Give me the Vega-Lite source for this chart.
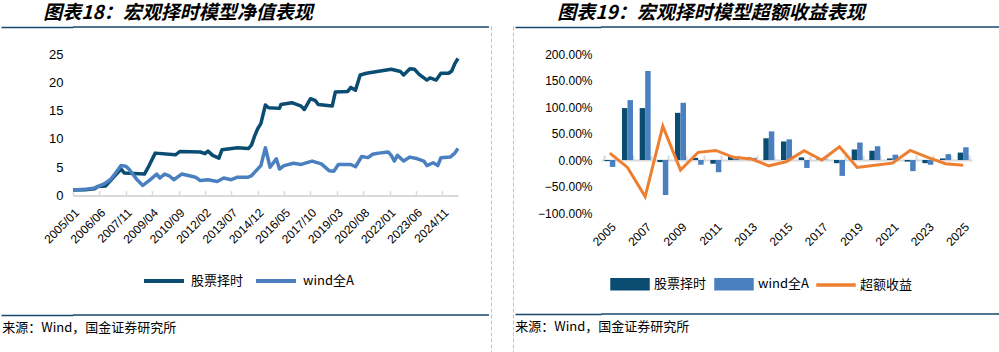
{
  "$schema": "https://vega.github.io/schema/vega-lite/v6.json",
  "padding": {"left": 0, "top": 4, "right": 0, "bottom": 0},
  "background": "white",
  "datasets": {
    "net": [
      {"date": "2005/01/01", "series": "股票择时", "value": 1.0},
      {"date": "2005/09/01", "series": "股票择时", "value": 1.05},
      {"date": "2006/03/01", "series": "股票择时", "value": 1.2},
      {"date": "2006/05/01", "series": "股票择时", "value": 1.6},
      {"date": "2006/10/01", "series": "股票择时", "value": 1.7},
      {"date": "2007/01/01", "series": "股票择时", "value": 2.6},
      {"date": "2007/04/01", "series": "股票择时", "value": 3.5},
      {"date": "2007/08/01", "series": "股票择时", "value": 4.7},
      {"date": "2007/10/01", "series": "股票择时", "value": 4.0},
      {"date": "2008/11/01", "series": "股票择时", "value": 3.8},
      {"date": "2009/02/01", "series": "股票择时", "value": 5.3},
      {"date": "2009/06/01", "series": "股票择时", "value": 7.5},
      {"date": "2010/07/01", "series": "股票择时", "value": 7.2},
      {"date": "2010/10/01", "series": "股票择时", "value": 7.8},
      {"date": "2011/11/01", "series": "股票择时", "value": 7.7},
      {"date": "2012/02/01", "series": "股票择时", "value": 7.4},
      {"date": "2012/04/01", "series": "股票择时", "value": 7.85},
      {"date": "2012/07/01", "series": "股票择时", "value": 7.1},
      {"date": "2012/11/01", "series": "股票择时", "value": 6.6},
      {"date": "2013/01/01", "series": "股票择时", "value": 8.1},
      {"date": "2013/11/01", "series": "股票择时", "value": 8.45},
      {"date": "2014/06/01", "series": "股票择时", "value": 8.3},
      {"date": "2014/08/01", "series": "股票择时", "value": 8.9},
      {"date": "2014/10/01", "series": "股票择时", "value": 10.5},
      {"date": "2014/12/01", "series": "股票择时", "value": 11.8},
      {"date": "2015/02/01", "series": "股票择时", "value": 12.7},
      {"date": "2015/05/01", "series": "股票择时", "value": 16.0},
      {"date": "2015/07/01", "series": "股票择时", "value": 15.5},
      {"date": "2016/02/01", "series": "股票择时", "value": 15.4},
      {"date": "2016/03/01", "series": "股票择时", "value": 16.1},
      {"date": "2016/10/01", "series": "股票择时", "value": 16.4},
      {"date": "2017/04/01", "series": "股票择时", "value": 15.8},
      {"date": "2017/06/01", "series": "股票择时", "value": 15.2},
      {"date": "2017/10/01", "series": "股票择时", "value": 17.1},
      {"date": "2018/01/01", "series": "股票择时", "value": 16.8},
      {"date": "2018/03/01", "series": "股票择时", "value": 16.1},
      {"date": "2018/12/01", "series": "股票择时", "value": 15.8},
      {"date": "2019/02/01", "series": "股票择时", "value": 18.3},
      {"date": "2019/10/01", "series": "股票择时", "value": 18.4},
      {"date": "2019/12/01", "series": "股票择时", "value": 19.1},
      {"date": "2020/03/01", "series": "股票择时", "value": 18.6},
      {"date": "2020/06/01", "series": "股票择时", "value": 21.3},
      {"date": "2020/10/01", "series": "股票择时", "value": 21.6},
      {"date": "2021/05/01", "series": "股票择时", "value": 21.9},
      {"date": "2022/02/01", "series": "股票择时", "value": 22.3},
      {"date": "2022/08/01", "series": "股票择时", "value": 21.9},
      {"date": "2022/10/01", "series": "股票择时", "value": 21.3},
      {"date": "2023/02/01", "series": "股票择时", "value": 22.4},
      {"date": "2023/05/01", "series": "股票择时", "value": 22.3},
      {"date": "2023/08/01", "series": "股票择时", "value": 21.4},
      {"date": "2024/01/01", "series": "股票择时", "value": 20.4},
      {"date": "2024/03/01", "series": "股票择时", "value": 20.8},
      {"date": "2024/07/01", "series": "股票择时", "value": 20.4},
      {"date": "2024/10/01", "series": "股票择时", "value": 21.6},
      {"date": "2025/03/01", "series": "股票择时", "value": 21.6},
      {"date": "2025/05/01", "series": "股票择时", "value": 22.0},
      {"date": "2025/07/01", "series": "股票择时", "value": 23.3},
      {"date": "2025/09/01", "series": "股票择时", "value": 24.2},
      {"date": "2005/01/01", "series": "wind全A", "value": 1.0},
      {"date": "2005/09/01", "series": "wind全A", "value": 1.1},
      {"date": "2006/03/01", "series": "wind全A", "value": 1.35},
      {"date": "2006/05/01", "series": "wind全A", "value": 1.6},
      {"date": "2006/09/01", "series": "wind全A", "value": 2.05},
      {"date": "2007/01/01", "series": "wind全A", "value": 2.8},
      {"date": "2007/04/01", "series": "wind全A", "value": 3.8},
      {"date": "2007/08/01", "series": "wind全A", "value": 5.3},
      {"date": "2007/11/01", "series": "wind全A", "value": 5.2},
      {"date": "2008/01/01", "series": "wind全A", "value": 4.7},
      {"date": "2008/06/01", "series": "wind全A", "value": 2.9},
      {"date": "2008/10/01", "series": "wind全A", "value": 1.8},
      {"date": "2009/02/01", "series": "wind全A", "value": 2.65},
      {"date": "2009/07/01", "series": "wind全A", "value": 3.8},
      {"date": "2009/09/01", "series": "wind全A", "value": 3.1},
      {"date": "2009/12/01", "series": "wind全A", "value": 3.8},
      {"date": "2010/03/01", "series": "wind全A", "value": 3.5},
      {"date": "2010/06/01", "series": "wind全A", "value": 2.8},
      {"date": "2010/11/01", "series": "wind全A", "value": 3.8},
      {"date": "2011/04/01", "series": "wind全A", "value": 3.5},
      {"date": "2011/08/01", "series": "wind全A", "value": 3.25},
      {"date": "2011/11/01", "series": "wind全A", "value": 2.65},
      {"date": "2012/04/01", "series": "wind全A", "value": 2.8},
      {"date": "2012/10/01", "series": "wind全A", "value": 2.5},
      {"date": "2013/02/01", "series": "wind全A", "value": 3.1},
      {"date": "2013/07/01", "series": "wind全A", "value": 2.8},
      {"date": "2013/11/01", "series": "wind全A", "value": 3.25},
      {"date": "2014/06/01", "series": "wind全A", "value": 3.25},
      {"date": "2014/08/01", "series": "wind全A", "value": 3.5},
      {"date": "2014/10/01", "series": "wind全A", "value": 4.1},
      {"date": "2015/02/01", "series": "wind全A", "value": 5.3},
      {"date": "2015/05/01", "series": "wind全A", "value": 8.45},
      {"date": "2015/08/01", "series": "wind全A", "value": 5.0},
      {"date": "2015/12/01", "series": "wind全A", "value": 6.5},
      {"date": "2016/02/01", "series": "wind全A", "value": 4.7},
      {"date": "2016/05/01", "series": "wind全A", "value": 5.3},
      {"date": "2016/11/01", "series": "wind全A", "value": 5.7},
      {"date": "2017/04/01", "series": "wind全A", "value": 5.5},
      {"date": "2017/11/01", "series": "wind全A", "value": 6.1},
      {"date": "2018/05/01", "series": "wind全A", "value": 5.6},
      {"date": "2018/10/01", "series": "wind全A", "value": 4.4},
      {"date": "2019/01/01", "series": "wind全A", "value": 4.3},
      {"date": "2019/04/01", "series": "wind全A", "value": 5.5},
      {"date": "2019/12/01", "series": "wind全A", "value": 5.5},
      {"date": "2020/03/01", "series": "wind全A", "value": 5.1},
      {"date": "2020/07/01", "series": "wind全A", "value": 6.9},
      {"date": "2020/11/01", "series": "wind全A", "value": 6.7},
      {"date": "2021/02/01", "series": "wind全A", "value": 7.3},
      {"date": "2021/06/01", "series": "wind全A", "value": 7.5},
      {"date": "2021/12/01", "series": "wind全A", "value": 7.7},
      {"date": "2022/02/01", "series": "wind全A", "value": 7.1},
      {"date": "2022/04/01", "series": "wind全A", "value": 6.1},
      {"date": "2022/06/01", "series": "wind全A", "value": 7.1},
      {"date": "2022/10/01", "series": "wind全A", "value": 6.1},
      {"date": "2023/02/01", "series": "wind全A", "value": 6.8},
      {"date": "2023/07/01", "series": "wind全A", "value": 6.5},
      {"date": "2023/11/01", "series": "wind全A", "value": 6.1},
      {"date": "2024/01/01", "series": "wind全A", "value": 5.3},
      {"date": "2024/05/01", "series": "wind全A", "value": 5.8},
      {"date": "2024/08/01", "series": "wind全A", "value": 5.3},
      {"date": "2024/10/01", "series": "wind全A", "value": 6.7},
      {"date": "2025/04/01", "series": "wind全A", "value": 6.8},
      {"date": "2025/07/01", "series": "wind全A", "value": 7.5},
      {"date": "2025/09/01", "series": "wind全A", "value": 8.3}
    ],
    "excess": [
      {"year": 2005, "series": "股票择时", "value": -0.02},
      {"year": 2006, "series": "股票择时", "value": 0.98},
      {"year": 2007, "series": "股票择时", "value": 0.98},
      {"year": 2008, "series": "股票择时", "value": -0.04},
      {"year": 2009, "series": "股票择时", "value": 0.89},
      {"year": 2010, "series": "股票择时", "value": 0.04},
      {"year": 2011, "series": "股票择时", "value": -0.07},
      {"year": 2012, "series": "股票择时", "value": 0.07},
      {"year": 2013, "series": "股票择时", "value": 0.05},
      {"year": 2014, "series": "股票择时", "value": 0.41},
      {"year": 2015, "series": "股票择时", "value": 0.35},
      {"year": 2016, "series": "股票择时", "value": 0.05},
      {"year": 2017, "series": "股票择时", "value": 0.01},
      {"year": 2018, "series": "股票择时", "value": -0.06},
      {"year": 2019, "series": "股票择时", "value": 0.20},
      {"year": 2020, "series": "股票择时", "value": 0.175},
      {"year": 2021, "series": "股票择时", "value": 0.03},
      {"year": 2022, "series": "股票择时", "value": -0.03},
      {"year": 2023, "series": "股票择时", "value": -0.06},
      {"year": 2024, "series": "股票择时", "value": 0.03},
      {"year": 2025, "series": "股票择时", "value": 0.14},
      {"year": 2005, "series": "wind全A", "value": -0.13},
      {"year": 2006, "series": "wind全A", "value": 1.13},
      {"year": 2007, "series": "wind全A", "value": 1.68},
      {"year": 2008, "series": "wind全A", "value": -0.66},
      {"year": 2009, "series": "wind全A", "value": 1.08},
      {"year": 2010, "series": "wind全A", "value": -0.09},
      {"year": 2011, "series": "wind全A", "value": -0.23},
      {"year": 2012, "series": "wind全A", "value": 0.02},
      {"year": 2013, "series": "wind全A", "value": 0.04},
      {"year": 2014, "series": "wind全A", "value": 0.54},
      {"year": 2015, "series": "wind全A", "value": 0.39},
      {"year": 2016, "series": "wind全A", "value": -0.15},
      {"year": 2017, "series": "wind全A", "value": 0.01},
      {"year": 2018, "series": "wind全A", "value": -0.30},
      {"year": 2019, "series": "wind全A", "value": 0.33},
      {"year": 2020, "series": "wind全A", "value": 0.26},
      {"year": 2021, "series": "wind全A", "value": 0.10},
      {"year": 2022, "series": "wind全A", "value": -0.21},
      {"year": 2023, "series": "wind全A", "value": -0.09},
      {"year": 2024, "series": "wind全A", "value": 0.11},
      {"year": 2025, "series": "wind全A", "value": 0.24},
      {"year": 2005, "series": "超额收益", "value": 0.13},
      {"year": 2006, "series": "超额收益", "value": -0.14},
      {"year": 2007, "series": "超额收益", "value": -0.69},
      {"year": 2008, "series": "超额收益", "value": 0.64},
      {"year": 2009, "series": "超额收益", "value": -0.19},
      {"year": 2010, "series": "超额收益", "value": 0.145},
      {"year": 2011, "series": "超额收益", "value": 0.18},
      {"year": 2012, "series": "超额收益", "value": 0.05},
      {"year": 2013, "series": "超额收益", "value": 0.02},
      {"year": 2014, "series": "超额收益", "value": -0.11},
      {"year": 2015, "series": "超额收益", "value": -0.03},
      {"year": 2016, "series": "超额收益", "value": 0.175},
      {"year": 2017, "series": "超额收益", "value": 0.0},
      {"year": 2018, "series": "超额收益", "value": 0.25},
      {"year": 2019, "series": "超额收益", "value": -0.14},
      {"year": 2020, "series": "超额收益", "value": -0.10},
      {"year": 2021, "series": "超额收益", "value": -0.06},
      {"year": 2022, "series": "超额收益", "value": 0.18},
      {"year": 2023, "series": "超额收益", "value": 0.05},
      {"year": 2024, "series": "超额收益", "value": -0.07},
      {"year": 2025, "series": "超额收益", "value": -0.10}
    ],
    "line": [{"k": 0}]
  },
  "hconcat": [
    {
      "vconcat": [
        {
          "width": 416, "height": 1,
          "title": {"text": "图表18：宏观择时模型净值表现", "anchor": "start", "dx": 43, "offset": 3},
          "data": {"name": "line"},
          "mark": {"type": "rule", "color": "#17496b", "strokeWidth": 1.5, "strokeCap": "butt"},
          "encoding": {
            "y": {"field": "k", "type": "quantitative", "scale": {"domain": [0, 1]},
              "axis": {"title": null, "values": [0], "labels": false, "domain": false, "grid": false, "ticks": true, "tickSize": 72, "tickColor": "#17496b", "tickWidth": 1.5, "tickCap": "butt"}}
          }
        },
        {
          "width": 385, "height": 141.6,
          "data": {"name": "net"},
          "mark": {"type": "line", "strokeWidth": 3.5, "strokeJoin": "round"},
          "encoding": {
            "x": {
              "field": "date", "type": "temporal",
              "scale": {"domain": [{"year": 2005, "month": 1, "date": 1}, {"year": 2025, "month": 9, "date": 1}], "nice": false},
              "axis": {
                "title": null,
                "values": [
                  {"year": 2005, "month": 1, "date": 1}, {"year": 2006, "month": 6, "date": 1}, {"year": 2007, "month": 11, "date": 1},
                  {"year": 2009, "month": 4, "date": 1}, {"year": 2010, "month": 9, "date": 1}, {"year": 2012, "month": 2, "date": 1},
                  {"year": 2013, "month": 7, "date": 1}, {"year": 2014, "month": 12, "date": 1}, {"year": 2016, "month": 5, "date": 1},
                  {"year": 2017, "month": 10, "date": 1}, {"year": 2019, "month": 3, "date": 1}, {"year": 2020, "month": 8, "date": 1},
                  {"year": 2022, "month": 1, "date": 1}, {"year": 2023, "month": 6, "date": 1}, {"year": 2024, "month": 11, "date": 1}
                ],
                "format": "%Y/%m", "formatType": "time", "labelOverlap": false,
                "labelAngle": -45, "labelFontSize": 12, "labelPadding": 16,
                "tickSize": -5, "tickColor": "#d9d9d9", "tickWidth": 1.5,
                "domainColor": "#d9d9d9", "domainWidth": 2, "grid": false
              }
            },
            "y": {
              "field": "value", "type": "quantitative",
              "scale": {"domain": [0, 25], "nice": false},
              "axis": {"title": null, "values": [0, 5, 10, 15, 20, 25], "domain": false, "ticks": false, "grid": false, "labelFontSize": 13, "labelPadding": 10, "minExtent": 72}
            },
            "color": {
              "field": "series", "type": "nominal",
              "scale": {"domain": ["股票择时", "wind全A"], "range": ["#0b4d72", "#4a80c0"]},
              "legend": {
                "orient": "none", "legendX": 69, "legendY": 205, "padding": 0,
                "direction": "horizontal", "title": null,
                "symbolType": "stroke", "symbolSize": 1600, "symbolStrokeWidth": 4,
                "labelFontSize": 13, "labelOffset": 5, "columnPadding": 4
              }
            }
          }
        },
        {
          "width": 416, "height": 6,
          "title": {"text": "来源：Wind，国金证券研究所", "orient": "bottom", "anchor": "start", "dx": 2, "offset": 6, "fontSize": 13, "fontWeight": "normal", "fontStyle": "normal"},
          "data": {"name": "line"},
          "mark": {"type": "rule", "color": "#17496b", "strokeWidth": 1.5, "strokeCap": "butt"},
          "encoding": {
            "y": {"field": "k", "type": "quantitative", "scale": {"domain": [0, 1]},
              "axis": {"title": null, "values": [0], "labels": false, "domain": false, "grid": false, "ticks": true, "tickSize": 72, "tickColor": "#17496b", "tickWidth": 1.5, "tickCap": "butt"}}
          }
        }
      ],
      "spacing": 20,
      "resolve": {"scale": {"color": "independent", "y": "independent"}, "legend": {"color": "independent"}}
    },
    {
      "width": 0.01, "height": 326,
      "view": {"stroke": "#c4c4c4", "strokeDash": [3, 3], "strokeWidth": 1},
      "data": {"values": []},
      "mark": "rule",
      "encoding": {}
    },
    {
      "width": 20, "height": 10,
      "data": {"values": []},
      "mark": "rule",
      "encoding": {}
    },
    {
      "width": 0.01, "height": 326,
      "view": {"stroke": "#c4c4c4", "strokeDash": [3, 3], "strokeWidth": 1},
      "data": {"values": []},
      "mark": "rule",
      "encoding": {}
    },
    {
      "vconcat": [
        {
          "width": 401, "height": 1,
          "title": {"text": "图表19：宏观择时模型超额收益表现", "anchor": "start", "dx": 43, "offset": 3},
          "data": {"name": "line"},
          "mark": {"type": "rule", "color": "#17496b", "strokeWidth": 1.5, "strokeCap": "butt"},
          "encoding": {
            "y": {"field": "k", "type": "quantitative", "scale": {"domain": [0, 1]},
              "axis": {"title": null, "values": [0], "labels": false, "domain": false, "grid": false, "ticks": true, "tickSize": 86, "tickColor": "#17496b", "tickWidth": 1.5, "tickCap": "butt"}}
          }
        },
        {
          "width": 371, "height": 159,
          "data": {"name": "excess"},
          "encoding": {
            "x": {
              "field": "year", "type": "ordinal",
              "scale": {"paddingInner": 0.38, "paddingOuter": 0.19},
              "axis": {
                "title": null, "labelExpr": "datum.value % 2 == 1 ? datum.label : ''",
                "labelAngle": -45, "labelFontSize": 12, "labelPadding": 66,
                "tickBand": "extent", "tickSize": -5, "tickColor": "#d9d9d9", "tickWidth": 2,
                "domainColor": "#d9d9d9", "domainWidth": 2, "offset": -53, "grid": false
              }
            },
            "y": {
              "field": "value", "type": "quantitative",
              "scale": {"domain": [-1, 2], "nice": false},
              "axis": {"title": null, "format": ".2%", "values": [-1, -0.5, 0, 0.5, 1, 1.5, 2], "domain": false, "ticks": false, "grid": false, "labelFontSize": 12, "labelPadding": 9, "minExtent": 86}
            },
            "color": {
              "field": "series", "type": "nominal",
              "scale": {"domain": ["股票择时", "wind全A", "超额收益"], "range": ["#0b4d72", "#4a80c0", "#ef7f30"]},
              "legend": {
                "orient": "none", "legendX": 9, "legendY": 210, "padding": 0,
                "direction": "horizontal", "title": null,
                "symbolSize": 1444, "labelFontSize": 13, "labelOffset": 4, "columnPadding": 5,
                "encode": {
                  "symbols": {
                    "update": {
                      "shape": {"signal": "datum.value === '超额收益' ? 'M-1,-0.05H1V0.05H-1Z' : 'M-1,-0.29H1V0.29H-1Z'"},
                      "fill": {"scale": "color", "field": "value"},
                      "stroke": {"value": "transparent"},
                      "size": {"value": 1444},
                      "opacity": {"value": 1}
                    }
                  }
                }
              }
            }
          },
          "layer": [
            {
              "transform": [{"filter": "datum.series !== '超额收益'"}],
              "mark": {"type": "bar"},
              "encoding": {
                "xOffset": {"field": "series", "type": "nominal", "scale": {"domain": ["股票择时", "wind全A"], "paddingInner": 0}}
              }
            },
            {
              "transform": [{"filter": "datum.series === '超额收益'"}],
              "mark": {"type": "line", "strokeWidth": 3, "strokeJoin": "miter"}
            }
          ]
        },
        {
          "width": 401, "height": 1,
          "title": {"text": "来源：Wind，国金证券研究所", "orient": "bottom", "anchor": "start", "dx": 1, "offset": 6, "fontSize": 13, "fontWeight": "normal", "fontStyle": "normal"},
          "data": {"name": "line"},
          "mark": {"type": "rule", "color": "#17496b", "strokeWidth": 1.5, "strokeCap": "butt"},
          "encoding": {
            "y": {"field": "k", "type": "quantitative", "scale": {"domain": [0, 1]},
              "axis": {"title": null, "values": [0], "labels": false, "domain": false, "grid": false, "ticks": true, "tickSize": 86, "tickColor": "#17496b", "tickWidth": 1.5, "tickCap": "butt"}}
          }
        }
      ],
      "spacing": 20,
      "resolve": {"scale": {"color": "independent", "y": "independent"}, "legend": {"color": "independent"}}
    }
  ],
  "spacing": 0,
  "resolve": {"scale": {"color": "independent"}, "legend": {"color": "independent"}},
  "config": {
    "view": {"stroke": null},
    "font": "Liberation Sans",
    "axis": {"labelFont": "Liberation Sans", "labelColor": "#000000", "grid": false},
    "legend": {"labelFont": "Noto Sans CJK SC", "labelColor": "#000000"},
    "title": {"font": "Noto Sans CJK SC", "fontSize": 19, "fontWeight": "bold", "fontStyle": "italic", "color": "#000000"}
  }
}
